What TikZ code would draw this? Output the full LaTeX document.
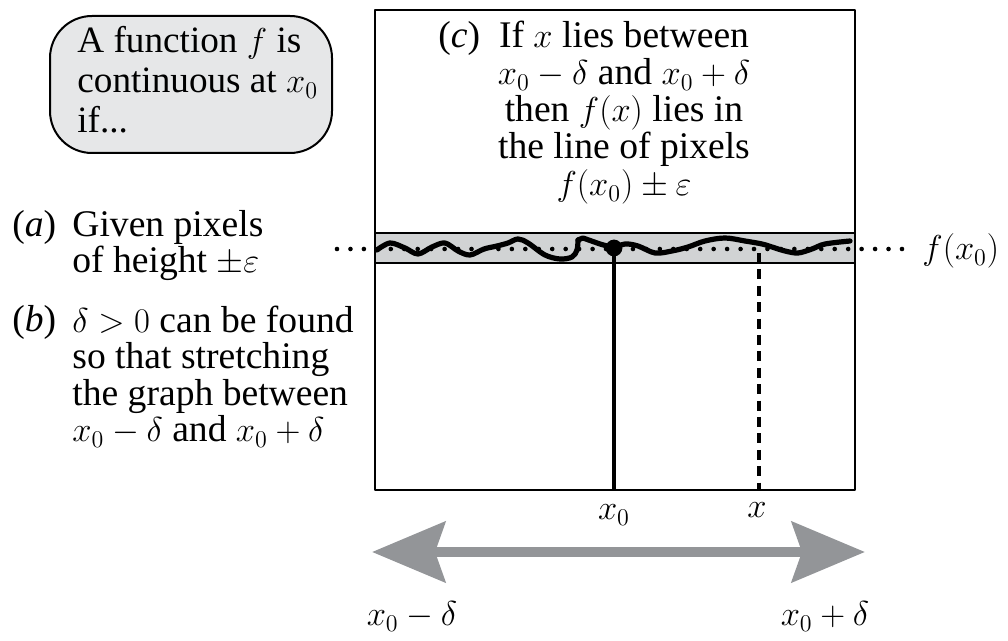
\documentclass[tikz,border=0pt]{standalone}
\usepackage{amsmath}
\usepackage{amssymb}
\usepackage{fontspec}
\setmainfont{Liberation Serif}
\usepackage{xcolor}
\usetikzlibrary{arrows.meta}

\definecolor{boxgray}{RGB}{230,231,232}
\definecolor{bandgray}{RGB}{209,211,212}
\definecolor{arrowgray}{RGB}{147,149,152}

\tikzset{
  txt/.style={inner sep=0pt, align=left, font=\fontsize{18.8}{18}\selectfont},
  wide/.style={txt, font=\fontsize{18.6}{20}\selectfont},
  tall/.style={txt, font=\fontsize{18.8}{18.3}\selectfont},
  mid/.style={txt, align=center, font=\fontsize{18.8}{18.5}\selectfont},
  bigtip/.tip={Stealth[length=36.5pt,width=30pt,inset=5pt]},
}

\begin{document}
\begin{tikzpicture}[x=0.5pt,y=-0.5pt,line join=round]
\useasboundingbox (0,0) rectangle (1008,641);
% rounded box and the window
\draw[line width=1pt,fill=boxgray,rounded corners=21pt] (50,16) rectangle (332,153);
\node[wide,anchor=base west] (intro) at (77,133) {A function $f$ is\\continuous at $x_0$\\if...};
\fill[bandgray] (375,233) rectangle (855,263);
\coordinate (dotL) at (337,249);
\coordinate (dotR) at (902,249);
\draw[line width=2.3pt,line cap=round,dash pattern=on 0pt off 6.726pt] (dotL) -- (dotR);
\draw[line width=1.1pt] (375,233) rectangle (855,263);
\draw[line width=1.2pt] (375,10) rectangle (855,490);
% the stretched graph
\draw[line width=2.6pt,line cap=round] plot[smooth,tension=0.55] coordinates {
  (377,250) (390,243) (405,248) (418,254) (432,247) (445,243) (458,251)
  (470,255) (484,249) (497,246) (508,243) (518,239) (528,243) (545,255)
  (560,259) (572,257) (577,250) (578,240)};
\draw[line width=2.6pt,line cap=round] (578,240) -- (583,238) -- (600,244) -- (614,248);
\draw[line width=2.6pt,line cap=round] plot[smooth,tension=0.55] coordinates {
  (614,248) (625,244) (638,246) (655,253) (672,251) (688,247) (705,241)
  (725,238) (745,241) (762,244) (772,247) (785,251) (798,253) (812,249)
  (825,244) (850,241)};
\coordinate (pt) at (614,248);
\coordinate (ptfoot) at (614,490);
\coordinate (xtop) at (759,253);
\coordinate (xfoot) at (759,490);
\draw[line width=2pt] (pt) -- (ptfoot);
\fill (pt) circle[radius=4.2pt];
\draw[line width=2pt,dash pattern=on 5pt off 3.2pt] (xtop) -- (xfoot);
% labels
\node[txt,anchor=base west] (tagc) at (438,48) {(\textit{c})};
\node[mid,anchor=base] (textc) at (624,196) {If $x$ lies between\\$x_0-\delta$ and $x_0+\delta$\\then $f(x)$ lies in\\the line of pixels\\$f(x_0)\pm\varepsilon$};
\node[txt,anchor=base west] (taga) at (12,237) {(\textit{a})};
\node[txt,anchor=base west] (texta) at (72,273) {Given pixels\\of height $\pm\varepsilon$};
\node[txt,anchor=base west] (tagb) at (12,332) {(\textit{b})};
\node[tall,anchor=base west] (textb) at (72,442) {$\delta>0$ can be found\\so that stretching\\the graph between\\$x_0-\delta$ and $x_0+\delta$};
\node[txt,anchor=base west] (fval) at (922,260) {$f(x_0)$};
\node[txt,anchor=base] (xzero) at (614,520) {$x_0$};
\node[txt,anchor=base] (xany) at (757,518) {$x$};
% stretching arrow
\coordinate (arrL) at (372,552);
\coordinate (arrR) at (865,552);
\draw[arrowgray,line width=5.3pt,{bigtip}-{bigtip}] (arrL) -- (arrR);
\node[txt,anchor=base] (xminus) at (412,626) {$x_0-\delta$};
\node[txt,anchor=base] (xplus) at (825,626) {$x_0+\delta$};
\end{tikzpicture}
\end{document}
